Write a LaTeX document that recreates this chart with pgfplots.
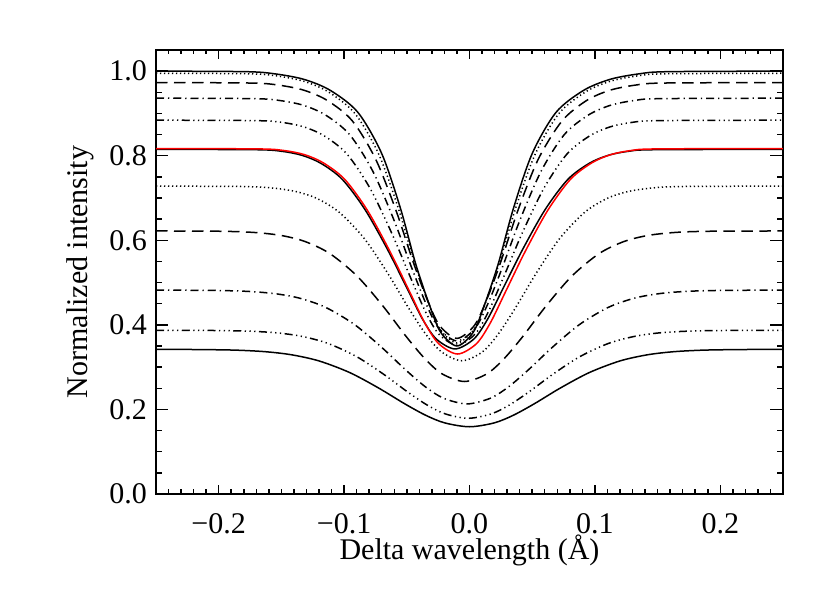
\documentclass[border=0pt]{standalone}
\usepackage{fontspec}
\setmainfont{Liberation Serif}
\usepackage{pgfplots}
\pgfplotsset{compat=1.18}

\pgfplotsset{
  profile/.style={smooth, no markers, line width=0.6pt, black},
  ls dot/.style={dash pattern=on 0.5pt off 1.1pt},
  ls dash/.style={dash pattern=on 4.6pt off 2.6pt},
  ls dashdot/.style={dash pattern=on 3.2pt off 1.6pt on 0.5pt off 1.6pt},
  ls dashdddot/.style={dash pattern=on 3.2pt off 1.4pt on 0.5pt off 1.4pt on 0.5pt off 1.4pt on 0.5pt off 1.4pt},
  frame/.style={scale only axis, width=250.8pt, height=177.6pt,
    at={(0,0)}, anchor=south west,
    xmin=-0.25, xmax=0.25, ymin=0, ymax=1.05,
    axis line style={line width=0.7pt},
    tick style={line width=0.6pt, black}},
}

\begin{document}
\fontsize{12}{14}\selectfont
\begin{tikzpicture}
\path[use as bounding box] (-62.4pt,-39.6pt) rectangle (269.6pt,197.6pt);

% y ticks and label
\begin{axis}[frame,
  xtick=\empty,
  ytick={0,0.2,0.4,0.6,0.8,1.0},
  yticklabels={0.0,0.2,0.4,0.6,0.8,1.0},
  minor ytick={0.05,0.1,...,1.01},
  major tick length=5pt, minor tick length=2.5pt,
  yticklabel style={xshift=0.6pt},
  ylabel={Normalized intensity},
  ylabel style={at={(axis description cs:-0.1085,0.5)}, anchor=base},
]
\end{axis}

% x ticks, label and the profiles
\begin{axis}[frame,
  ytick=\empty,
  xtick={-0.2,-0.1,0,0.1,0.2},
  xticklabels={−0.2,−0.1,0.0,0.1,0.2},
  minor xtick={-0.24,-0.23,...,0.245},
  major tick length=3.6pt, minor tick length=1.8pt,
  xticklabel style={yshift=-3.6pt},
  xlabel={Delta wavelength (Å)},
  xlabel style={at={(axis description cs:0.5,-0.1486)}, anchor=base},
]
% continuum 1.000
\addplot[profile] coordinates {
  (-0.25,1.000) (-0.178,0.9987) (-0.155,0.9935) (-0.132,0.9805) (-0.111,0.9545)
  (-0.089,0.9025) (-0.070,0.805) (-0.055,0.675) (-0.043,0.545) (-0.032,0.4475)
  (-0.023,0.3825) (-0.010,0.350) (0.003,0.3825) (0.012,0.4475) (0.023,0.545)
  (0.035,0.675) (0.050,0.805) (0.069,0.9025) (0.091,0.9545) (0.112,0.9805)
  (0.135,0.9935) (0.158,0.9987) (0.25,1.000)
};
% continuum 0.995
\addplot[profile, ls dot] coordinates {
  (-0.25,0.995) (-0.176,0.9937) (-0.1536,0.9886) (-0.132,0.9759) (-0.1122,0.9503)
  (-0.0912,0.8993) (-0.0724,0.8036) (-0.0568,0.676) (-0.044,0.5484) (-0.0328,0.4527)
  (-0.0234,0.3889) (-0.010,0.357) (0.0034,0.3889) (0.0128,0.4527) (0.024,0.5484)
  (0.0368,0.676) (0.0524,0.8036) (0.0712,0.8993) (0.0922,0.9503) (0.112,0.9759)
  (0.1336,0.9886) (0.156,0.9937) (0.25,0.995)
};
% continuum 0.973
\addplot[profile, ls dash] coordinates {
  (-0.25,0.973) (-0.174,0.9718) (-0.1522,0.9669) (-0.132,0.9548) (-0.1134,0.9306)
  (-0.0934,0.8822) (-0.0748,0.7915) (-0.0586,0.6705) (-0.045,0.5495) (-0.0336,0.4587)
  (-0.0238,0.3982) (-0.010,0.368) (0.0038,0.3982) (0.0136,0.4587) (0.025,0.5495)
  (0.0386,0.6705) (0.0548,0.7915) (0.0738,0.8822) (0.0934,0.9306) (0.112,0.9548)
  (0.1322,0.9669) (0.154,0.9718) (0.25,0.973)
};
% continuum 0.936
\addplot[profile, ls dashdot] coordinates {
  (-0.25,0.936) (-0.172,0.9349) (-0.1508,0.9303) (-0.132,0.9188) (-0.1146,0.8958)
  (-0.0956,0.8499) (-0.0772,0.7638) (-0.0604,0.649) (-0.046,0.5342) (-0.0344,0.4481)
  (-0.0242,0.3907) (-0.010,0.362) (0.0042,0.3907) (0.0144,0.4481) (0.026,0.5342)
  (0.0404,0.649) (0.0572,0.7638) (0.0756,0.8499) (0.0946,0.8958) (0.112,0.9188)
  (0.1308,0.9303) (0.152,0.9349) (0.25,0.936)
};
% continuum 0.884
\addplot[profile, ls dashdddot] coordinates {
  (-0.25,0.884) (-0.170,0.8829) (-0.1494,0.8787) (-0.132,0.868) (-0.1158,0.8468)
  (-0.0978,0.8042) (-0.0796,0.7244) (-0.0622,0.618) (-0.047,0.5116) (-0.0352,0.4318)
  (-0.0246,0.3786) (-0.010,0.352) (0.0046,0.3786) (0.0152,0.4318) (0.027,0.5116)
  (0.0422,0.618) (0.0596,0.7244) (0.0778,0.8042) (0.0958,0.8468) (0.112,0.868)
  (0.1294,0.8787) (0.150,0.8829) (0.25,0.884)
};
% continuum 0.815
\addplot[profile] coordinates {
  (-0.25,0.815) (-0.1695,0.8141) (-0.1495,0.8103) (-0.1335,0.8008) (-0.1185,0.782)
  (-0.1015,0.7442) (-0.0835,0.6734) (-0.0655,0.579) (-0.0495,0.4846) (-0.0375,0.4138)
  (-0.0265,0.3666) (-0.0115,0.343) (0.0035,0.3666) (0.0145,0.4138) (0.0265,0.4846)
  (0.0425,0.579) (0.0605,0.6734) (0.0785,0.7442) (0.0955,0.782) (0.1105,0.8008)
  (0.1265,0.8103) (0.1465,0.8141) (0.25,0.815)
};
% continuum 0.728
\addplot[profile, ls dot] coordinates {
  (-0.25,0.728) (-0.183,0.7272) (-0.1584,0.7239) (-0.139,0.7156) (-0.1218,0.6991)
  (-0.1038,0.666) (-0.0839,0.6041) (-0.0651,0.5215) (-0.0484,0.4389) (-0.0346,0.3769)
  (-0.0221,0.3356) (-0.006,0.315) (0.0101,0.3356) (0.0226,0.3769) (0.0364,0.4389)
  (0.0531,0.5215) (0.0719,0.6041) (0.0918,0.666) (0.1098,0.6991) (0.127,0.7156)
  (0.1464,0.7239) (0.171,0.7272) (0.25,0.728)
};
% continuum 0.622
\addplot[profile, ls dash] coordinates {
  (-0.25,0.622) (-0.1985,0.6213) (-0.1714,0.6184) (-0.1501,0.6113) (-0.1312,0.5971)
  (-0.1114,0.5686) (-0.0896,0.5152) (-0.0689,0.444) (-0.0506,0.3728) (-0.0354,0.3194)
  (-0.0217,0.2838) (-0.004,0.266) (0.0137,0.2838) (0.0274,0.3194) (0.0426,0.3728)
  (0.0609,0.444) (0.0816,0.5152) (0.1034,0.5686) (0.1232,0.5971) (0.1421,0.6113)
  (0.1634,0.6184) (0.1905,0.6213) (0.25,0.622)
};
% continuum 0.482
\addplot[profile, ls dashdot] coordinates {
  (-0.25,0.482) (-0.2064,0.4815) (-0.178,0.4793) (-0.1556,0.4739) (-0.1357,0.4632)
  (-0.1149,0.4416) (-0.092,0.4013) (-0.0703,0.3475) (-0.051,0.2937) (-0.0351,0.2533)
  (-0.0206,0.2264) (-0.002,0.213) (0.0166,0.2264) (0.0311,0.2533) (0.047,0.2937)
  (0.0663,0.3475) (0.088,0.4013) (0.1109,0.4416) (0.1317,0.4632) (0.1516,0.4739)
  (0.174,0.4793) (0.2024,0.4815) (0.25,0.482)
};
% continuum 0.387
\addplot[profile, ls dashdddot] coordinates {
  (-0.25,0.387) (-0.2029,0.3866) (-0.1748,0.3849) (-0.1527,0.3808) (-0.1331,0.3724)
  (-0.1126,0.3558) (-0.0899,0.3246) (-0.0684,0.283) (-0.0494,0.2414) (-0.0337,0.2102)
  (-0.0193,0.1894) (-0.001,0.179) (0.0173,0.1894) (0.0317,0.2102) (0.0474,0.2414)
  (0.0664,0.283) (0.0879,0.3246) (0.1106,0.3558) (0.1311,0.3724) (0.1507,0.3808)
  (0.1728,0.3849) (0.2009,0.3866) (0.25,0.387)
};
% continuum 0.342
\addplot[profile] coordinates {
  (-0.25,0.342) (-0.2169,0.3416) (-0.1867,0.3402) (-0.1629,0.3365) (-0.1419,0.3292)
  (-0.1198,0.3145) (-0.0955,0.2871) (-0.0724,0.2505) (-0.052,0.2139) (-0.0351,0.1864)
  (-0.0197,0.1681) (0,0.159) (0.0197,0.1681) (0.0351,0.1864) (0.052,0.2139)
  (0.0724,0.2505) (0.0955,0.2871) (0.1198,0.3145) (0.1419,0.3292) (0.1629,0.3365)
  (0.1867,0.3402) (0.2169,0.3416) (0.25,0.342)
};
% red reference profile
\addplot[profile, red] coordinates {
  (-0.25,0.817) (-0.1675,0.816) (-0.1475,0.8121) (-0.1315,0.8024) (-0.1165,0.783)
  (-0.0995,0.7441) (-0.0815,0.6712) (-0.0635,0.574) (-0.0475,0.4768) (-0.0355,0.4039)
  (-0.0245,0.3553) (-0.0095,0.331) (0.0055,0.3553) (0.0165,0.4039) (0.0285,0.4768)
  (0.0445,0.574) (0.0625,0.6712) (0.0805,0.7441) (0.0975,0.783) (0.1125,0.8024)
  (0.1285,0.8121) (0.1485,0.816) (0.25,0.817)
};
\end{axis}
\end{tikzpicture}
\end{document}
